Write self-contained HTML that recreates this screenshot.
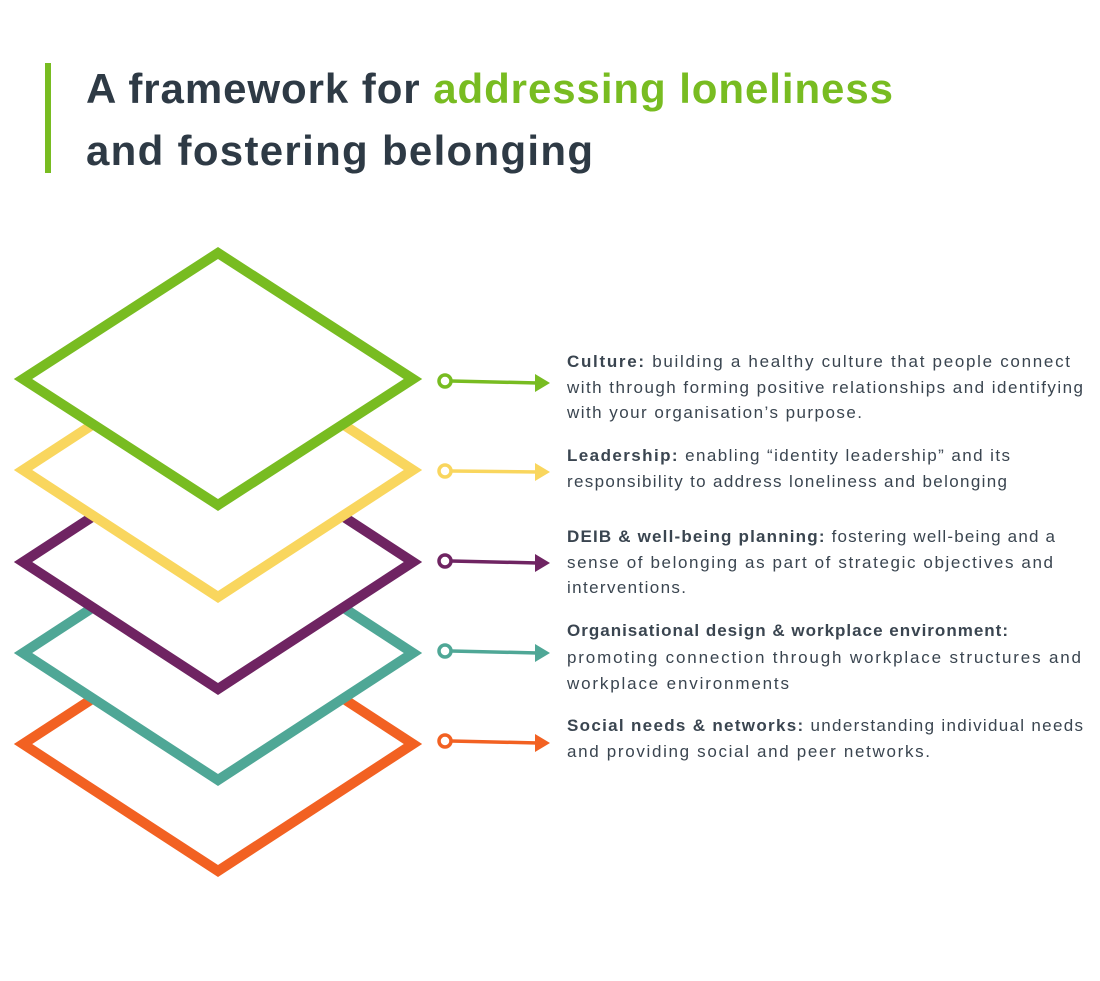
<!DOCTYPE html>
<html><head><style>
body{margin:0;background:#fff;}
svg text{font-family:"Liberation Sans",sans-serif;}
</style></head><body>
<svg width="1100" height="976" viewBox="0 0 1100 976" xmlns="http://www.w3.org/2000/svg">
<rect width="1100" height="976" fill="#fff"/>
<rect x="45" y="63" width="6" height="110" fill="#78bc21"/>
<text x="86" y="103" font-size="42" font-weight="bold" fill="#2e3a45" textLength="807" lengthAdjust="spacing">A framework for <tspan fill="#78bc21">addressing loneliness</tspan></text>
<text x="86" y="165" font-size="42" font-weight="bold" fill="#2e3a45" textLength="507" lengthAdjust="spacing">and fostering belonging</text>
<g stroke-width="10" fill="#fff" stroke-linejoin="miter">
<polygon points="218,617 413,744 218,871 23,744" stroke="#f26122"/>
<polygon points="218,526 413,653 218,780 23,653" stroke="#4fa796"/>
<polygon points="218,435 413,562 218,689 23,562" stroke="#6f2462"/>
<polygon points="218,343 413,470 218,597 23,470" stroke="#f9d65e"/>
<polygon points="218,253 413,379 218,505 23,379" stroke="#78bc21"/>
</g>
<g stroke-width="3.5" fill="none">
<g stroke="#78bc21"><circle cx="445" cy="381" r="6"/><line x1="451" y1="381" x2="538" y2="383"/><polygon points="535,374 550,383 535,392" fill="#78bc21" stroke="none"/></g>
<g stroke="#f9d65e"><circle cx="445" cy="471" r="6"/><line x1="451" y1="471" x2="538" y2="472"/><polygon points="535,463 550,472 535,481" fill="#f9d65e" stroke="none"/></g>
<g stroke="#6f2462"><circle cx="445" cy="561" r="6"/><line x1="451" y1="561" x2="538" y2="563"/><polygon points="535,554 550,563 535,572" fill="#6f2462" stroke="none"/></g>
<g stroke="#4fa796"><circle cx="445" cy="651" r="6"/><line x1="451" y1="651" x2="538" y2="653"/><polygon points="535,644 550,653 535,662" fill="#4fa796" stroke="none"/></g>
<g stroke="#f26122"><circle cx="445" cy="741" r="6"/><line x1="451" y1="741" x2="538" y2="743"/><polygon points="535,734 550,743 535,752" fill="#f26122" stroke="none"/></g>
</g>
<g font-size="17" fill="#3a4550" lengthAdjust="spacing">
<text x="567" y="367" textLength="503"><tspan font-weight="bold">Culture:</tspan> building a healthy culture that people connect</text>
<text x="567" y="393" textLength="516">with through forming positive relationships and identifying</text>
<text x="567" y="418" textLength="295">with your organisation’s purpose.</text>
<text x="567" y="461" textLength="443"><tspan font-weight="bold">Leadership:</tspan> enabling “identity leadership” and its</text>
<text x="567" y="487" textLength="440">responsibility to address loneliness and belonging</text>
<text x="567" y="542" textLength="488"><tspan font-weight="bold">DEIB &amp; well-being planning:</tspan> fostering well-being and a</text>
<text x="567" y="568" textLength="486">sense of belonging as part of strategic objectives and</text>
<text x="567" y="593" textLength="119">interventions.</text>
<text x="567" y="636" font-weight="bold" textLength="441">Organisational design &amp; workplace environment:</text>
<text x="567" y="663" textLength="514">promoting connection through workplace structures and</text>
<text x="567" y="689" textLength="222">workplace environments</text>
<text x="567" y="731" textLength="516"><tspan font-weight="bold">Social needs &amp; networks:</tspan> understanding individual needs</text>
<text x="567" y="757" textLength="363">and providing social and peer networks.</text>
</g>
</svg>
</body></html>
